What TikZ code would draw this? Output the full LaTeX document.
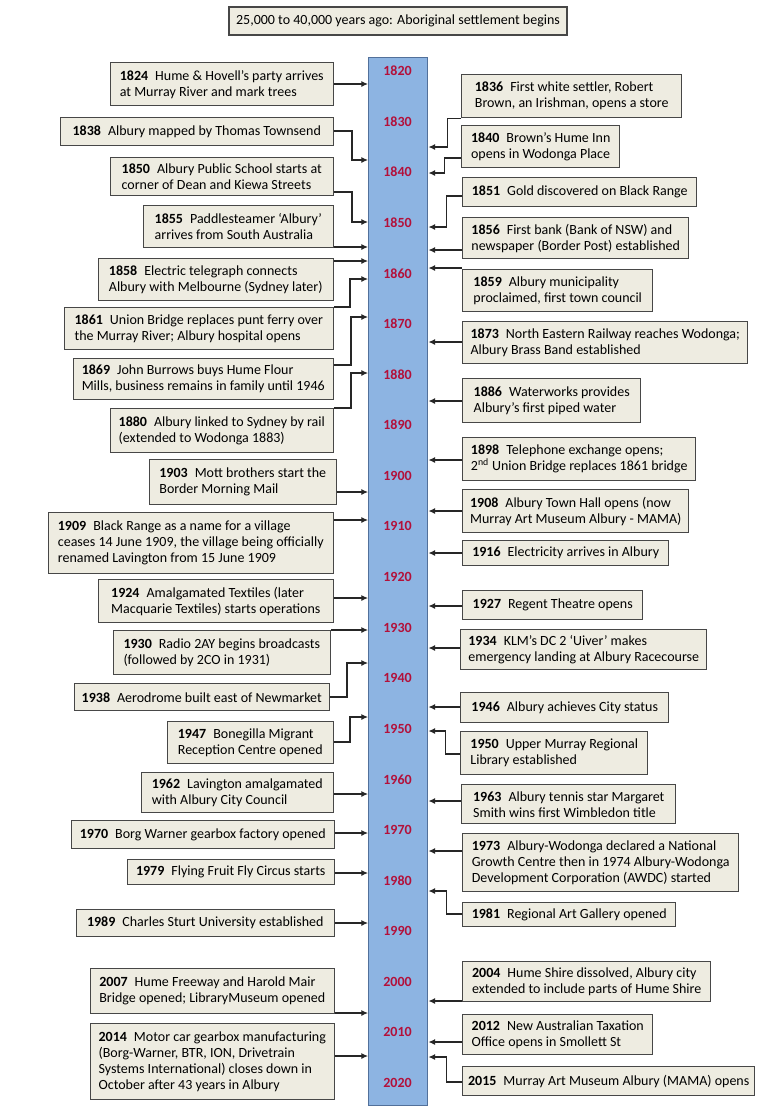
\documentclass[tikz,border=0pt]{standalone}
\usepackage{fontspec}
\setmainfont{Carlito}
\usetikzlibrary{arrows.meta}
\definecolor{BoxFill}{HTML}{EEECE1}
\definecolor{BoxLine}{HTML}{474747}
\definecolor{BarFill}{HTML}{8DB4E2}
\definecolor{BarLine}{HTML}{52709A}
\definecolor{YearRed}{HTML}{B3103A}
\definecolor{ArrowGrey}{HTML}{262626}
\newcommand{\yr}[1]{\textbf{#1}\hspace{0.5em}}

\tikzset{
  evbox/.style={draw=BoxLine, line width=1.1pt, fill=BoxFill, align=left,
    inner xsep=4pt, inner ysep=2pt, font=\fontsize{10.5}{12}\selectfont},
  lbox/.style={evbox, anchor=north east},
  rbox/.style={evbox, anchor=north west},
  sz/.style 2 args={minimum width=#1*0.75pt, minimum height=#2*0.75pt},
  yearlab/.style={text=YearRed, font=\bfseries\fontsize{10.5}{12}\selectfont},
  arr/.style={ArrowGrey, line width=0.8pt, -{Latex[length=5pt,width=4.5pt]}},
}

\begin{document}
\begin{tikzpicture}[x=0.75pt, y=-0.75pt]
\fill[white] (0,0) rectangle (768,1111);
\useasboundingbox (0,0) rectangle (768,1111);

% --- top note ---
\node[evbox, sz={338}{28}] (top) at (398,21) {25,000 to 40,000 years ago: Aboriginal settlement begins};

% --- time bar ---
\node[draw=BarLine, line width=1.1pt, fill=BarFill, anchor=north west, sz={59}{1048}] (bar) at (368,57) {};
\foreach \yv [count=\i from 0] in {1820,1830,...,2020}
  \node[yearlab] (yr\yv) at (397.5,{71+50.6*\i}) {\yv};

% --- left events ---
\node[lbox, sz={223}{43}] (b1824) at (334,62) {\yr{1824}Hume \& Hovell’s party arrives\\at Murray River and mark trees};
\node[lbox, sz={273}{28}] (b1838) at (334,117) {\yr{1838}Albury mapped by Thomas Townsend};
\node[lbox, sz={223}{38}] (b1850) at (334,157) {\yr{1850}Albury Public School starts at\\corner of Dean and Kiewa Streets};
\node[lbox, sz={190}{42}] (b1855) at (334,205) {\yr{1855}Paddlesteamer ‘Albury’\\arrives from South Australia};
\node[lbox, sz={235}{42}] (b1858) at (334,258) {\yr{1858}Electric telegraph connects\\Albury with Melbourne (Sydney later)};
\node[lbox, sz={269}{42}] (b1861) at (334,307) {\yr{1861}Union Bridge replaces punt ferry over\\the Murray River; Albury hospital opens};
\node[lbox, sz={260}{41}] (b1869) at (334,358) {\yr{1869}John Burrows buys Hume Flour\\Mills, business remains in family until 1946};
\node[lbox, sz={223}{44}] (b1880) at (334,408) {\yr{1880}Albury linked to Sydney by rail\\(extended to Wodonga 1883)};
\node[lbox, sz={187}{45}] (b1903) at (337,459) {\yr{1903}Mott brothers start the\\Border Morning Mail};
\node[lbox, sz={285}{61}] (b1909) at (334,512) {\yr{1909}Black Range as a name for a village\\ceases 14 June 1909, the village being officially\\renamed Lavington from 15 June 1909};
\node[lbox, sz={235}{43}] (b1924) at (334,579) {\yr{1924}Amalgamated Textiles (later\\Macquarie Textiles) starts operations};
\node[lbox, sz={217}{44}] (b1930) at (331,630) {\yr{1930}Radio 2AY begins broadcasts\\(followed by 2CO in 1931)};
\node[lbox, sz={255}{27}] (b1938) at (330,683) {\yr{1938}Aerodrome built east of Newmarket};
\node[lbox, sz={166}{42}] (b1947) at (334,721) {\yr{1947}Bonegilla Migrant\\Reception Centre opened};
\node[lbox, sz={192}{40}] (b1962) at (334,772) {\yr{1962}Lavington amalgamated\\with Albury City Council};
\node[lbox, sz={263}{28}] (b1970) at (335,820) {\yr{1970}Borg Warner gearbox factory opened};
\node[lbox, sz={207}{25}] (b1979) at (335,859) {\yr{1979}Flying Fruit Fly Circus starts};
\node[lbox, sz={258}{27}] (b1989) at (335,909) {\yr{1989}Charles Sturt University established};
\node[lbox, sz={244}{45}] (b2007) at (335,968) {\yr{2007}Hume Freeway and Harold Mair\\Bridge opened; LibraryMuseum opened};
\node[lbox, sz={244}{76}] (b2014) at (335,1023) {\yr{2014}Motor car gearbox manufacturing\\(Borg-Warner, BTR, ION, Drivetrain\\Systems International) closes down in\\October after 43 years in Albury};

% --- right events ---
\node[rbox, sz={220}{43}] (b1836) at (461,74) {\yr{1836}First white settler, Robert\\Brown, an Irishman, opens a store};
\node[rbox, sz={158}{42}] (b1840) at (461,125) {\yr{1840}Brown’s Hume Inn\\opens in Wodonga Place};
\node[rbox, sz={234}{29}] (b1851) at (462,177) {\yr{1851}Gold discovered on Black Range};
\node[rbox, sz={226}{41}] (b1856) at (462,217) {\yr{1856}First bank (Bank of NSW) and\\newspaper (Border Post) established};
\node[rbox, sz={190}{42}] (b1859) at (462,269) {\yr{1859}Albury municipality\\proclaimed, first town council};
\node[rbox, sz={285}{42}] (b1873) at (462,321) {\yr{1873}North Eastern Railway reaches Wodonga;\\Albury Brass Band established};
\node[rbox, sz={178}{44}] (b1886) at (462,378) {\yr{1886}Waterworks provides\\Albury’s first piped water};
\node[rbox, sz={233}{43}] (b1898) at (462,437) {\yr{1898}Telephone exchange opens;\\2\textsuperscript{nd} Union Bridge replaces 1861 bridge};
\node[rbox, sz={226}{43}] (b1908) at (462,489) {\yr{1908}Albury Town Hall opens (now\\Murray Art Museum Albury - MAMA)};
\node[rbox, sz={206}{25}] (b1916) at (462,540) {\yr{1916}Electricity arrives in Albury};
\node[rbox, sz={180}{29}] (b1927) at (462,590) {\yr{1927}Regent Theatre opens};
\node[rbox, sz={246}{40}] (b1934) at (460,629) {\yr{1934}KLM’s DC 2 ‘Uiver’ makes\\emergency landing at Albury Racecourse};
\node[rbox, sz={208}{30}] (b1946) at (460,692) {\yr{1946}Albury achieves City status};
\node[rbox, sz={187}{43}] (b1950) at (460,731) {\yr{1950}Upper Murray Regional\\Library established};
\node[rbox, sz={214}{39}] (b1963) at (461,784) {\yr{1963}Albury tennis star Margaret\\Smith wins first Wimbledon title};
\node[rbox, sz={276}{58}] (b1973) at (462,833) {\yr{1973}Albury-Wodonga declared a National\\Growth Centre then in 1974 Albury-Wodonga\\Development Corporation (AWDC) started};
\node[rbox, sz={213}{24}] (b1981) at (462,902) {\yr{1981}Regional Art Gallery opened};
\node[rbox, sz={248}{40}] (b2004) at (462,961) {\yr{2004}Hume Shire dissolved, Albury city\\extended to include parts of Hume Shire};
\node[rbox, sz={190}{40}] (b2012) at (462,1014) {\yr{2012}New Australian Taxation\\Office opens in Smollett St};
\node[rbox, sz={287}{29}] (b2015) at (462,1066) {\yr{2015}Murray Art Museum Albury (MAMA) opens};

% --- arrow tips on the bar ---
\foreach \e/\ty in {1824/84,1838/160,1850/222,1855/247,1858/261,1861/279,1869/317,1880/373,
    1903/492,1909/520,1924/598,1930/630,1938/663,1947/717,1962/794,1970/833,1979/873,
    1989/923,2007/1013,2014/1056}
  \coordinate (t\e) at (bar.west |- 0,\ty);
\foreach \e/\ty in {1836/147,1840/173,1851/227,1856/250,1859/268,1873/342,1886/401,1898/460,
    1908/511,1916/553,1927/606,1934/648,1946/707,1950/731,1963/801,1973/851,1981/891,
    2004/1001,2012/1042,2015/1057}
  \coordinate (t\e) at (bar.east |- 0,\ty);

% straight connectors
\foreach \e in {1824,1855,1858,1903,1909,1924,1930,1962,1970,1979,1989,2007,2014}
  \draw[arr] (b\e.east |- t\e) -- (t\e);
\foreach \e in {1856,1859,1873,1886,1898,1908,1916,1927,1934,1946,1963,1973,2004,2012}
  \draw[arr] (b\e.west |- t\e) -- (t\e);

% elbow connectors
\draw[arr] (b1838.east |- 0,131) -| ([xshift=-12pt]t1838) -- (t1838);
\draw[arr] (b1850.east |- 0,192) -| ([xshift=-12pt]t1850) -- (t1850);
\draw[arr] (b1861.north east) -| ([xshift=-13.5pt]t1861) -- (t1861);
\draw[arr] (b1869.east |- 0,365) -| ([xshift=-12.75pt]t1869) -- (t1869);
\draw[arr] (b1880.north east) -| ([xshift=-12.75pt]t1880) -- (t1880);
\draw[arr] (b1938.east |- 0,697) -| ([xshift=-15.75pt]t1938) -- (t1938);
\draw[arr] (b1947.east |- 0,742) -| ([xshift=-13.5pt]t1947) -- (t1947);
\draw[arr] (b1836.south west) -| ([xshift=14.25pt]t1836) -- (t1836);
\draw[arr] (b1840.west |- 0,158) -| ([xshift=12pt]t1840) -- (t1840);
\draw[arr] (b1851.west |- 0,196) -| ([xshift=13.5pt]t1851) -- (t1851);
\draw[arr] (b1950.west |- 0,754) -| ([xshift=12.75pt]t1950) -- (t1950);
\draw[arr] (b1981.west |- 0,914) -| ([xshift=13.5pt]t1981) -- (t1981);
\draw[arr] (b2015.west |- 0,1082) -| ([xshift=13.5pt]t2015) -- (t2015);
\end{tikzpicture}
\end{document}
